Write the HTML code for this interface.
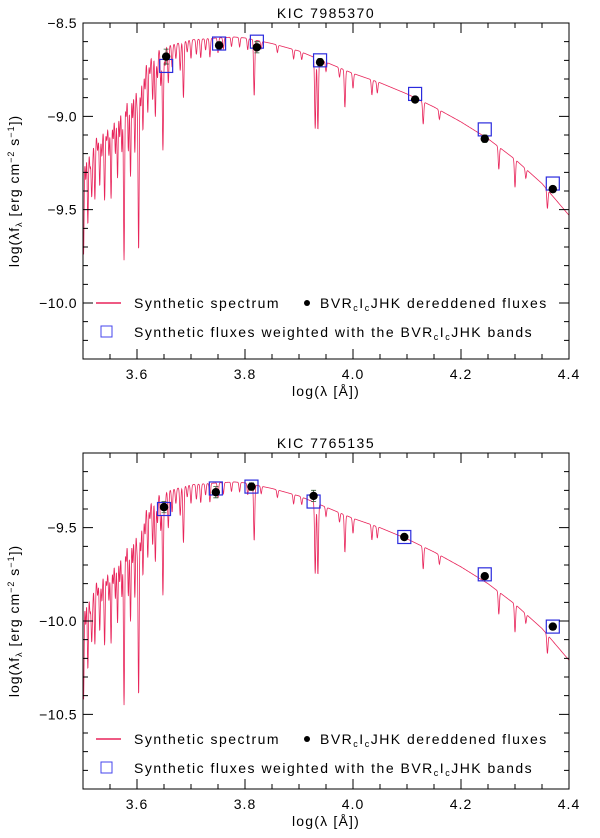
<!DOCTYPE html>
<html><head><meta charset="utf-8"><style>
html,body{margin:0;padding:0;background:#fff;}
svg{display:block;font-family:"Liberation Sans",sans-serif;}
</style></head><body>
<svg id="fig" width="600" height="838" viewBox="0 0 600 838"></svg>
<script>
// ---- data ----
const lineCenters=[3.501,3.505,3.509,3.513,3.516,3.518,3.522,3.527,3.531,3.535,3.540,3.544,3.548,3.552,3.556,3.560,3.564,3.568,3.572,3.576,3.580,3.584,3.588,3.592,3.596,3.600,3.603,3.607,3.611,3.615,3.620,3.624,3.629,3.634,3.638,3.644,3.648,3.652,3.658,3.665,3.672,3.680,3.686,3.693,3.700,3.710,3.718,3.727,3.735,3.750,3.760,3.775,3.790,3.805,3.817,3.830,3.860,3.890,3.905,3.930,3.935,3.950,3.975,3.985,4.000,4.035,4.045,4.130,4.160,4.270,4.300,4.320,4.360];
const lineDepths=[0.6,0.2,0.45,0.15,0.3,0.1,0.35,0.1,0.3,0.15,0.4,0.1,0.2,0.45,0.15,0.25,0.4,0.2,0.3,0.9,0.15,0.35,0.5,0.2,0.4,0.15,0.95,0.2,0.35,0.15,0.3,0.1,0.25,0.35,0.15,0.2,0.55,0.1,0.2,0.12,0.08,0.15,0.3,0.06,0.1,0.08,0.1,0.06,0.1,0.08,0.06,0.05,0.05,0.06,0.3,0.04,0.04,0.05,0.04,0.38,0.38,0.05,0.05,0.2,0.08,0.08,0.06,0.12,0.05,0.12,0.15,0.05,0.1];
const contX=[3.50,3.52,3.54,3.56,3.58,3.60,3.62,3.64,3.66,3.70,3.75,3.78,3.80,3.85,3.90,3.95,4.00,4.05,4.10,4.15,4.20,4.25,4.30,4.35,4.40];
const contTop=[-9.15,-9.10,-9.05,-8.95,-8.85,-8.78,-8.68,-8.64,-8.62,-8.59,-8.58,-8.575,-8.58,-8.61,-8.65,-8.71,-8.77,-8.82,-8.88,-8.95,-9.03,-9.12,-9.23,-9.36,-9.53];
const contBot=[-9.83,-9.78,-9.73,-9.63,-9.53,-9.46,-9.36,-9.32,-9.30,-9.27,-9.26,-9.255,-9.26,-9.29,-9.33,-9.39,-9.45,-9.50,-9.56,-9.63,-9.71,-9.80,-9.91,-10.04,-10.21];
const bandXTop=[3.654,3.752,3.822,3.939,4.115,4.244,4.370];
const sqTop=[-8.73,-8.61,-8.60,-8.70,-8.88,-9.07,-9.36];
const dotTop=[-8.68,-8.62,-8.63,-8.71,-8.91,-9.12,-9.39];
const errTop=[0.04,0.02,0.03,0.02,0.01,0.02,0.01];
const bandXBot=[3.650,3.746,3.812,3.927,4.095,4.244,4.370];
const sqBot=[-9.40,-9.29,-9.28,-9.36,-9.55,-9.75,-10.03];
const dotBot=[-9.39,-9.31,-9.28,-9.33,-9.55,-9.76,-10.03];
const errBot=[0.03,0.03,0.02,0.03,0.01,0.01,0.01];
const xTicks=[3.6,3.8,4.0,4.2,4.4];
const xTickLabels=["3.6","3.8","4.0","4.2","4.4"];
const yTicksTop=[-8.5,-9.0,-9.5,-10.0];
const yTickLabelsTop=["\u22128.5","\u22129.0","\u22129.5","\u221210.0"];
const yTicksBot=[-9.5,-10.0,-10.5];
const yTickLabelsBot=["\u22129.5","\u221210.0","\u221210.5"];

const NS="http://www.w3.org/2000/svg";
const svg=document.getElementById('fig');
function mk(tag,attrs,parent){const e=document.createElementNS(NS,tag);for(const k in attrs)e.setAttribute(k,attrs[k]);(parent||svg).appendChild(e);return e;}
function interp(xs,ys,x){if(x<=xs[0])return ys[0];for(let i=1;i<xs.length;i++){if(x<=xs[i]){const t=(x-xs[i-1])/(xs[i]-xs[i-1]);return ys[i-1]+t*(ys[i]-ys[i-1]);}}return ys[ys.length-1];}

function panel(cfg){
  const L=83,R=569,T=cfg.top,B=cfg.top+336;
  const sx=v=>L+(v-3.5)/0.9*(R-L);
  const sy=v=>T+(cfg.ymax-v)/(cfg.ymax-cfg.ymin)*(B-T);
  const g=mk('g',{},svg);
  
  
  const cp=mk('clipPath',{id:'c'+cfg.name},g);
  mk('rect',{x:L,y:T,width:R-L,height:B-T},cp);
  let d='';
  for(let x=3.5;x<=4.4001;x+=0.0004){
    let f=interp(contX,cfg.cont,x);
    for(let i=0;i<lineCenters.length;i++){const dx=(x-lineCenters[i])/0.0011;if(Math.abs(dx)<5)f-=lineDepths[i]*Math.exp(-0.5*dx*dx);}
    d+=(d?'L':'M')+sx(x).toFixed(2)+' '+sy(f).toFixed(2);
  }
  const sp=mk('path',{d:d,fill:'none',stroke:'#e8245a','stroke-width':0.8,'clip-path':'url(#c'+cfg.name+')'},g);
  
  
  cfg.bx.forEach((x,i)=>{
    const r=mk('rect',{x:sx(x)-6.5,y:sy(cfg.sq[i])-6.5,width:13,height:13,fill:'none',stroke:'#2b2bdd','stroke-width':1.2},g);
    
    
  });
  cfg.bx.forEach((x,i)=>{
    const e=mk('path',{d:`M${sx(x)} ${sy(cfg.dot[i]+cfg.err[i])}V${sy(cfg.dot[i]-cfg.err[i])}M${sx(x)-2.5} ${sy(cfg.dot[i]+cfg.err[i])}h5M${sx(x)-2.5} ${sy(cfg.dot[i]-cfg.err[i])}h5`,stroke:'#335533','stroke-width':0.8,fill:'none'},g);
    
    
    const c=mk('circle',{cx:sx(x),cy:sy(cfg.dot[i]),r:4.2,fill:'#000'},g);
    
    
  });
  const fr=mk('rect',{x:L,y:T,width:R-L,height:B-T,fill:'none',stroke:'#000','stroke-width':1},g);
  
  
  let tk='';
  for(let k=0;k<=18;k++){const v=3.5+k*0.05;const len=(k%4===2)?10:5;const X=sx(v);tk+=`M${X} ${B}v${-len}M${X} ${T}v${len}`;}
  for(let v=Math.ceil(cfg.ymin*10);v<=Math.floor(cfg.ymax*10);v++){const len=(v%5===0)?10:5;const Y=sy(v/10);tk+=`M${L} ${Y}h${len}M${R} ${Y}h${-len}`;}
  const tks=mk('path',{d:tk,stroke:'#000','stroke-width':1,fill:'none'},g);
  
  
  xTicks.forEach((v,i)=>{const t=mk('text',{x:sx(v),y:B+20,'font-size':14,'letter-spacing':1,'text-anchor':'middle'},g);t.textContent=xTickLabels[i];
    });
  cfg.yt.forEach((v,i)=>{const t=mk('text',{x:L-6,y:sy(v)+5,'font-size':14,'letter-spacing':0.5,'text-anchor':'end'},g);t.textContent=cfg.ytl[i];
    });
  const xt=mk('text',{x:(L+R)/2,y:B+37,'font-size':14,'letter-spacing':1.2,'text-anchor':'middle'},g);
  xt.textContent='log(\u03bb [\u00c5])';
  
  const yt=mk('text',{x:0,y:0,'font-size':14,'letter-spacing':1,'text-anchor':'middle',transform:`translate(19 ${(T+B)/2}) rotate(-90)`},g);
  yt.innerHTML='log(\u03bbf<tspan font-size="9" dy="3">\u03bb</tspan><tspan dy="-3"> [erg cm</tspan><tspan font-size="9" dy="-5">\u22122</tspan><tspan dy="5"> s</tspan><tspan font-size="9" dy="-5">\u22121</tspan><tspan dy="5">])</tspan>';
  
  const ti=mk('text',{x:(L+R)/2,y:T-5,'font-size':14,'letter-spacing':1.5,'text-anchor':'middle','xml:space':'preserve'},g);
  ti.textContent=cfg.title;
  
  const r1=cfg.leg, r2=cfg.leg+29;
  const lg=mk('g',{},g);
  
  mk('line',{x1:96,x2:121,y1:r1,y2:r1,stroke:'#e8245a','stroke-width':1.5},lg);
  const a=mk('text',{x:134,y:r1+5,'font-size':14,'letter-spacing':1.5},lg);a.textContent='Synthetic spectrum';
  mk('circle',{cx:307,cy:r1,r:3,fill:'#000'},lg);
  const b=mk('text',{x:320,y:r1+5,'font-size':14,'letter-spacing':1.5},lg);
  b.innerHTML='BVR<tspan font-size="9" dy="3">c</tspan><tspan dy="-3">I</tspan><tspan font-size="9" dy="3">c</tspan><tspan dy="-3">JHK dereddened fluxes</tspan>';
  mk('rect',{x:101,y:r2-6,width:11,height:11,fill:'none',stroke:'#4444ee','stroke-width':1},lg);
  const c2=mk('text',{x:134,y:r2+5,'font-size':14,'letter-spacing':1.5},lg);
  c2.innerHTML='Synthetic fluxes weighted with the BVR<tspan font-size="9" dy="3">c</tspan><tspan dy="-3">I</tspan><tspan font-size="9" dy="3">c</tspan><tspan dy="-3">JHK bands</tspan>';
}
panel({name:'panel-kic-7985370',title:'KIC  7985370',top:23,ymin:-10.3,ymax:-8.5,cont:contTop,bx:bandXTop,sq:sqTop,dot:dotTop,err:errTop,yt:yTicksTop,ytl:yTickLabelsTop,leg:303});
panel({name:'panel-kic-7765135',title:'KIC  7765135',top:453,ymin:-10.9,ymax:-9.1,cont:contBot,bx:bandXBot,sq:sqBot,dot:dotBot,err:errBot,yt:yTicksBot,ytl:yTickLabelsBot,leg:739});
</script>
</body></html>
